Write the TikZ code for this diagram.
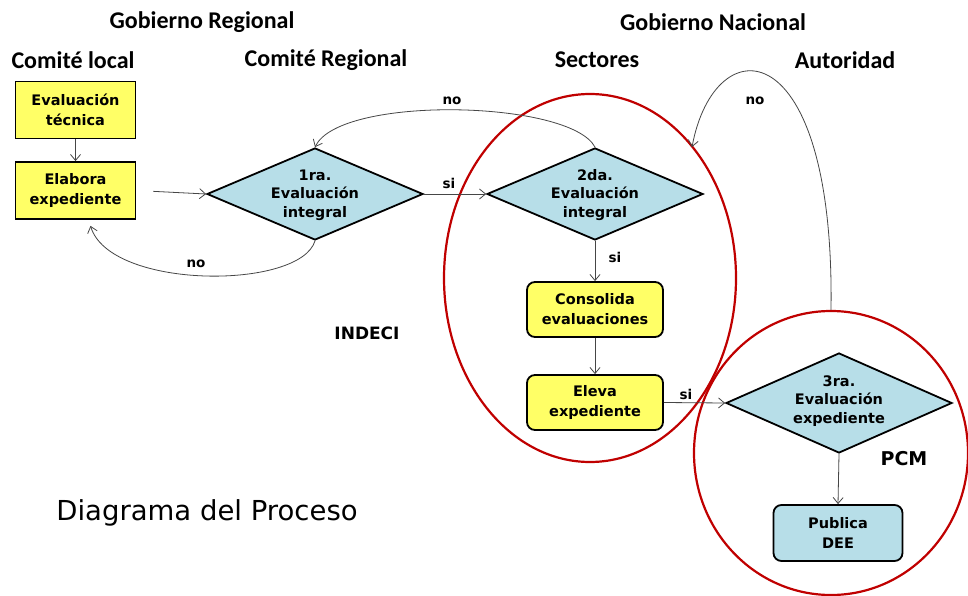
\documentclass[tikz,border=0pt]{standalone}
\usepackage{fontspec}
\setmainfont{DejaVu Sans}
\newfontfamily\hdrfont{Carlito}
\usetikzlibrary{shapes.geometric,arrows.meta,calc}
\definecolor{boxyellow}{RGB}{255,255,102}
\definecolor{boxblue}{RGB}{183,222,232}
\definecolor{ovalred}{RGB}{192,0,0}
\definecolor{linegrey}{RGB}{70,70,70}
\begin{document}
\begin{tikzpicture}[x=1pt,y=-1pt,
  hdr/.style={font=\hdrfont\bfseries\fontsize{24}{26}\selectfont},
  ntext/.style={font=\bfseries\fontsize{14.5}{18.5}\selectfont,align=center,inner sep=0pt},
  lbl/.style={font=\bfseries\fontsize{13.5}{15}\selectfont,inner sep=0pt},
  ybox/.style={draw=black,line width=1.8pt,fill=boxyellow,minimum width=120pt,minimum height=57pt,font=\bfseries\fontsize{14.5}{20}\selectfont,align=center,inner sep=0pt},
  rybox/.style={ybox,rounded corners=8pt,minimum width=136pt,minimum height=55pt},
  bbox/.style={rybox,fill=boxblue,minimum width=129pt,minimum height=56pt},
  dia/.style={diamond,draw=black,line width=1.8pt,fill=boxblue,inner sep=0pt,minimum width=216pt,minimum height=92pt},
  oval/.style={ellipse,draw=ovalred,line width=2.2pt,inner sep=0pt},
  conn/.style={draw=linegrey,line width=0.8pt,-{Straight Barb[length=6pt,width=10pt]}}
]
\useasboundingbox (0,0) rectangle (968,596);
\fill[white] (0,0) rectangle (968,596);

% headers
\node[hdr] (hgr) at (202,22) {Gobierno Regional};
\node[hdr] (hgn) at (713,22) {Gobierno Nacional};
\node[hdr] (hcl) at (73,60) {Comité local};
\node[hdr] (hcr) at (326,60) {Comité Regional};
\node[hdr] (hse) at (597,60) {Sectores};
\node[hdr] (hau) at (845,60) {Autoridad};

% red ovals
\node[oval,minimum width=292pt,minimum height=368pt] (e1) at (590,278) {};
\node[oval,minimum width=274pt,minimum height=284pt] (e2) at (831,453) {};

% boxes
\node[ybox] (et) at (75.5,110) {Evaluación\\técnica};
\node[ybox] (eb) at (75.5,190.5) {Elabora\\expediente};

\node[dia] (d1) at (315,194) {};
\node[ntext] (d1t) at (315,195) {1ra.\\Evaluación\\integral};

\node[dia] (d2) at (595,194) {};
\node[ntext] (d2t) at (595,195) {2da.\\Evaluación\\integral};

\node[rybox] (cons) at (595,309.5) {Consolida\\evaluaciones};
\node[rybox] (elev) at (595,402.5) {Eleva\\expediente};

\node[dia,minimum width=226pt,minimum height=100pt] (d3) at (839,403) {};
\node[ntext] (d3t) at (839,401) {3ra.\\Evaluación\\expediente};

\node[bbox] (pub) at (838,533) {Publica\\DEE};

% other texts
\node[font=\bfseries\fontsize{17}{19}\selectfont] (indeci) at (367,333) {INDECI};
\node[font=\bfseries\fontsize{19}{21}\selectfont] (pcm) at (904,459) {PCM};
\node[font=\fontsize{27.5}{30}\selectfont] (title) at (207,513) {Diagrama del Proceso};

% connectors
\draw[conn] (et.south) -- (eb.north);
\draw[conn,shorten <=17pt] (eb.east) -- (d1.west);
\draw[conn] (d1.south) .. controls (300,290) and (110,290) .. ([xshift=15pt,yshift=-6pt]eb.south);
\node[lbl] (no1) at (196,264) {no};
\draw[conn] (d1.east) -- (d2.west);
\node[lbl] (si1) at (449,183) {si};
\draw[conn] (d2.north) .. controls (570,100) and (340,95) .. (d1.north);
\node[lbl] (no2) at (452,101) {no};
\draw[conn] (d2.south) -- (cons.north);
\node[lbl] (si2) at (615,257) {si};
\draw[conn] (cons.south) -- (elev.north);
\draw[conn] (elev.east) -- (d3.west);
\node[lbl] (si3) at (686,394) {si};
\draw[conn] (d3.south) -- (pub.north);
\draw[conn] (e2.north) .. controls (835,30) and (715,25) .. (692,147);
\node[lbl] (no3) at (755,101) {no};
\end{tikzpicture}
\end{document}
